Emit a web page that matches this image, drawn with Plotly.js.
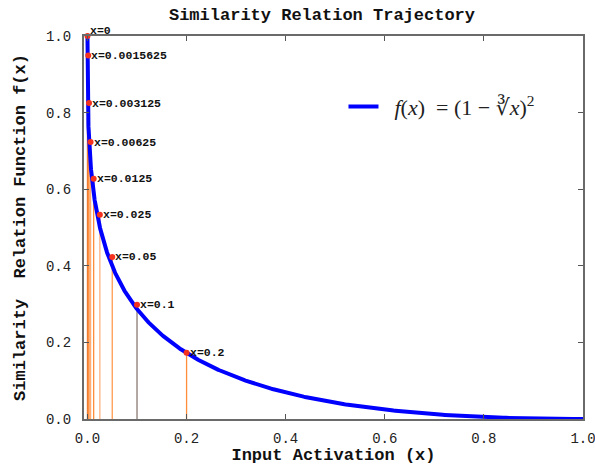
<!DOCTYPE html>
<html>
<head>
<meta charset="utf-8">
<script src="https://cdn.plot.ly/plotly-3.0.1.min.js"></script>
<style>
  html, body { margin: 0; padding: 0; background: #ffffff; }
  #chart { width: 595px; height: 465px; }
</style>
</head>
<body>
<div id="chart"></div>
<script>
// Sampled activations with their similarity values
const markerX = [0, 0.0015625, 0.003125, 0.00625, 0.0125, 0.025, 0.05, 0.1, 0.2];
const markerY = [1.0, 0.949, 0.825, 0.723, 0.627, 0.533, 0.423, 0.298, 0.173];
const markerLabels = ['x=0', 'x=0.0015625', 'x=0.003125', 'x=0.00625', 'x=0.0125',
                      'x=0.025', 'x=0.05', 'x=0.1', 'x=0.2'];
const stemColors = ['#e07030', '#ff8c3a', '#ff8c3a', '#ffaa70', '#ff8c3a',
                    '#ffb080', '#ff9a50', '#8a7a72', '#ff8c3a'];

const xTicks = [0, 0.2, 0.4, 0.6, 0.8, 1.0];
const xTickText = ['0.0', '0.2', '0.4', '0.6', '0.8', '1.0'];
const yTicks = [0, 0.2, 0.4, 0.6, 0.8, 1.0];
const yTickText = ['0.0', '0.2', '0.4', '0.6', '0.8', '1.0'];

// f(x) = (1 - cbrt(x))^2, traced through t = cbrt(x) so the steep start is resolved
const curveX = [];
const curveY = [];
const N = 600;
for (let i = 0; i <= N; i++) {
  const t = i / N;
  curveX.push(t * t * t);
  curveY.push((1 - t) * (1 - t));
}

const mono = 'Liberation Mono, Courier New, monospace';
const traces = [];

// vertical drop lines from each sampled point
markerX.forEach((xv, i) => {
  traces.push({
    x: [xv, xv], y: [0, markerY[i]],
    mode: 'lines', type: 'scatter',
    line: { color: stemColors[i], width: 1.3 },
    showlegend: false, hoverinfo: 'skip'
  });
});

traces.push({
  x: curveX, y: curveY,
  mode: 'lines', type: 'scatter',
  name: '\u00a0\u00a0<i>f</i>(<i>x</i>)\u00a0 = (1 − ∛<i>x</i>)<sup>2</sup>',
  line: { color: '#0000ff', width: 4 },
  showlegend: true
});

traces.push({
  x: markerX, y: markerY,
  mode: 'markers', type: 'scatter',
  marker: { color: '#f5321e', size: 6 },
  cliponaxis: false,
  showlegend: false
});

// point labels sit just right of each marker
const labelNotes = markerLabels.map((txt, i) => ({
  x: markerX[i], y: markerY[i], xref: 'x', yref: 'y',
  text: txt, showarrow: false,
  xanchor: 'left', yanchor: 'middle',
  xshift: 1, yshift: i === 0 ? 6 : 0,
  font: { family: mono, size: 11.5, color: '#111111', weight: 'bold' }
}));

const axisCommon = {
  ticks: 'inside', ticklen: 5, tickwidth: 1, tickcolor: '#555555',
  showline: true, linecolor: '#6a6a6a', linewidth: 2, mirror: 'allticks',
  showgrid: false, zeroline: false,
  ticklabeloverflow: 'allow',
  tickfont: { family: mono, size: 14, color: '#222222' }
};

const layout = {
  width: 595, height: 465,
  margin: { l: 84, r: 12, t: 36, b: 46 },
  paper_bgcolor: '#ffffff', plot_bgcolor: '#ffffff',
  title: {
    text: 'Similarity Relation Trajectory',
    font: { family: mono, size: 17, color: '#111111', weight: 'bold' },
    xref: 'container', yref: 'container',
    x: 322 / 595, y: 1 - 14 / 465, xanchor: 'center', yanchor: 'middle'
  },
  xaxis: Object.assign({}, axisCommon, {
    range: [-0.007, 1.0],
    tickvals: xTicks, ticktext: xTickText,
    ticklabelstandoff: 5,
    title: { text: 'Input Activation (x)', standoff: 8,
             font: { family: mono, size: 17, color: '#111111', weight: 'bold' } }
  }),
  yaxis: Object.assign({}, axisCommon, {
    range: [0, 1.0],
    tickvals: yTicks, ticktext: yTickText,
    ticklabelstandoff: 8,
    title: { text: 'Similarity\u00a0 Relation Function f(x)', standoff: 16,
             font: { family: mono, size: 17, color: '#111111', weight: 'bold' } }
  }),
  legend: {
    x: 0.52, y: 0.87, xanchor: 'left', yanchor: 'top',
    bgcolor: 'rgba(0,0,0,0)', borderwidth: 0, itemwidth: 30,
    font: { family: 'Liberation Serif, DejaVu Serif, serif', size: 22, color: '#222222' }
  },
  annotations: labelNotes
};

Plotly.newPlot('chart', traces, layout, { displayModeBar: false, staticPlot: true });
</script>
</body>
</html>
